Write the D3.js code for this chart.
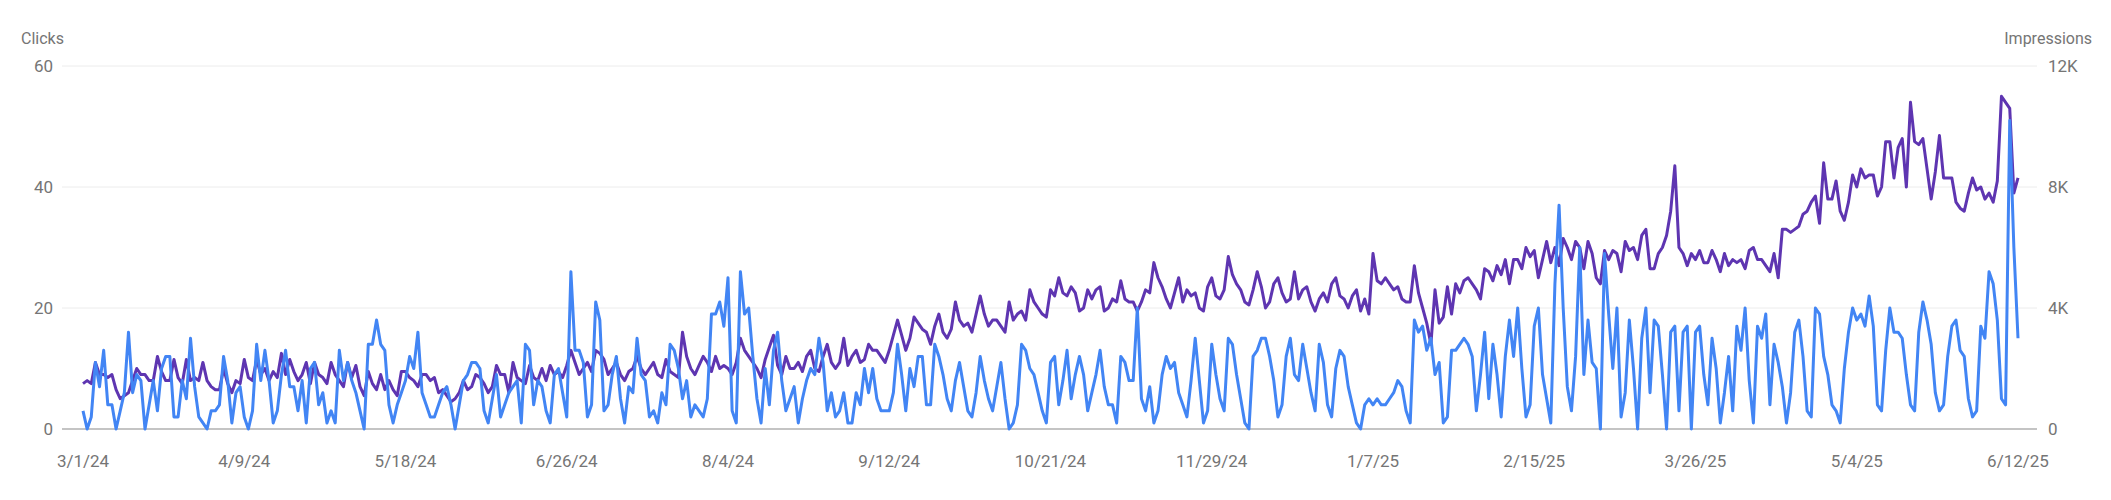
<!DOCTYPE html>
<html>
<head>
<meta charset="utf-8">
<script src="https://cdn.jsdelivr.net/npm/d3@7"></script>
<style>
  body { margin: 0; background: #fff; }
  text { font-family: Roboto, "Open Sans", sans-serif; fill: #757575; }
</style>
</head>
<body>
<div id="chart"></div>
<script>
// daily clicks, 3/1/24 .. 6/12/25
var clicks = [
  3,0,2,11,7,13,4,4,0,3,6,16,6,9,8,0,4,8,3,10,12,12,2,2,8,5,15,7,2,1,0,3,3,4,12,8,1,6,7,
  2,0,3,14,8,13,8,1,3,9,13,7,7,3,8,1,10,11,4,6,1,3,1,13,8,11,8,6,3,0,14,14,18,14,13,4,1,4,6,
  8,12,10,16,6,4,2,2,4,6,7,4,0,4,8,9,11,11,10,3,1,5,9,2,4,6,7,8,1,14,13,4,8,7,3,1,9,10,6,
  2,26,13,13,11,2,4,21,18,3,4,9,12,5,1,7,6,15,9,8,2,3,1,6,4,14,13,10,5,8,2,4,3,2,5,19,19,21,17,
  25,3,1,26,19,20,12,5,1,10,4,13,16,8,3,5,7,1,5,8,10,9,15,11,3,6,2,3,6,1,1,6,4,10,6,10,5,3,3,
  3,6,14,9,3,10,7,12,12,4,4,14,12,9,5,3,8,11,7,3,2,6,12,8,5,3,7,11,5,0,1,4,14,13,10,9,6,3,1,
  11,12,4,8,13,5,9,12,9,3,6,9,13,7,4,4,1,12,11,8,8,20,5,3,7,1,3,9,12,10,11,6,4,2,8,15,8,1,3,
  14,9,5,3,15,14,9,5,1,0,12,13,15,15,12,8,2,4,12,15,9,8,14,10,6,3,14,11,4,2,10,13,12,7,4,1,0,4,5,
  4,5,4,4,5,6,8,7,3,1,18,16,17,13,15,9,11,1,2,13,13,14,15,14,12,3,9,16,5,14,9,2,12,18,12,20,10,2,4,
  17,20,9,5,1,24,37,20,7,3,12,30,9,18,11,10,0,29,19,10,20,2,6,18,10,0,15,20,6,18,17,9,0,16,17,3,16,17,0,
  16,17,9,4,15,10,1,6,12,3,17,13,20,8,1,17,15,19,4,14,11,7,1,6,16,18,12,3,2,20,19,12,9,4,3,1,10,16,20,
  18,19,17,22,17,4,3,13,20,16,16,15,9,4,3,16,21,18,14,6,3,4,12,17,18,13,12,5,2,3,17,15,26,24,18,5,4,51,30,15
];
// daily impressions, thousands
var impressionsK = [
  1.5,1.6,1.5,2.2,1.8,1.8,1.7,1.8,1.3,1.0,1.1,1.2,1.6,2.0,1.8,1.8,1.6,1.6,2.4,1.9,1.6,1.6,2.3,1.7,1.5,2.3,1.6,1.7,1.6,2.2,1.6,1.4,1.3,1.3,2.0,1.5,1.2,1.6,1.5,
  2.3,1.7,1.6,2.3,1.8,2.0,1.6,1.9,1.7,2.5,1.8,2.3,1.9,1.6,1.8,2.2,1.5,2.2,1.8,1.7,1.5,2.2,1.8,1.6,1.4,2.2,1.7,2.1,1.4,1.1,1.9,1.5,1.3,1.8,1.3,1.6,1.3,1.1,1.9,
  1.9,1.7,1.6,1.4,1.8,1.8,1.6,1.7,1.2,1.3,1.1,0.9,1.0,1.2,1.6,1.3,1.4,1.8,1.7,1.5,1.2,1.4,2.1,1.8,1.8,1.2,2.2,1.7,1.6,1.5,2.1,1.7,1.6,2.0,1.6,2.1,1.8,1.9,1.7,
  2.1,2.6,2.2,1.8,2.0,2.2,1.9,2.6,2.5,2.3,1.8,2.0,2.2,1.8,1.6,1.9,2.0,2.4,2.0,1.8,2.0,2.2,1.8,1.7,2.3,1.9,1.8,1.7,3.2,2.4,2.0,1.8,2.1,2.4,2.2,1.9,2.4,2.0,2.1,
  2.0,1.8,2.2,3.0,2.6,2.4,2.2,2.0,1.7,2.3,2.7,3.1,2.1,1.8,2.4,2.0,2.0,2.2,1.9,2.4,2.6,2.0,1.9,2.4,2.8,2.2,2.0,2.2,3.0,2.1,2.4,2.6,2.2,2.3,2.8,2.6,2.6,2.4,2.2,
  2.6,3.1,3.6,3.1,2.6,3.0,3.7,3.5,3.3,3.2,2.8,3.4,3.8,3.2,3.0,3.3,4.2,3.6,3.4,3.5,3.2,3.8,4.4,3.8,3.4,3.6,3.6,3.4,3.2,4.2,3.6,3.8,3.9,3.6,4.6,4.2,4.0,3.8,3.7,
  4.6,4.4,5.0,4.5,4.4,4.7,4.5,3.9,4.0,4.6,4.3,4.6,4.7,3.9,4.0,4.3,4.2,4.9,4.3,4.2,4.2,3.9,4.2,4.6,4.5,5.5,5.0,4.7,4.3,4.0,4.5,5.0,4.2,4.6,4.4,4.5,4.0,3.9,4.7,
  5.0,4.4,4.3,4.6,5.7,5.1,4.8,4.6,4.2,4.1,4.6,5.2,4.7,4.0,4.2,4.8,5.0,4.5,4.2,4.3,5.2,4.3,4.6,4.7,4.2,3.9,4.3,4.5,4.2,4.8,5.0,4.4,4.3,4.0,4.4,4.6,3.9,4.3,3.8,
  5.8,4.9,4.8,5.0,4.8,4.6,4.7,4.3,4.2,4.2,5.4,4.5,4.0,3.5,2.8,4.6,3.5,3.7,4.7,3.8,4.8,4.5,4.9,5.0,4.8,4.6,4.3,5.3,5.2,4.9,5.4,5.1,5.6,4.8,5.6,5.6,5.3,6.0,5.7,
  5.9,5.0,5.6,6.2,5.5,6.0,5.4,6.3,6.0,5.6,6.2,6.0,5.3,6.2,5.8,5.0,4.8,5.9,5.6,5.9,5.8,5.2,6.2,5.9,6.0,5.6,6.4,6.6,5.3,5.3,5.8,6.0,6.4,7.2,8.7,6.0,5.8,5.4,5.8,
  5.6,5.9,5.5,5.5,5.9,5.6,5.2,5.8,5.4,5.6,5.5,5.6,5.3,5.9,6.0,5.6,5.6,5.4,5.2,5.8,5.0,6.6,6.6,6.5,6.6,6.7,7.1,7.2,7.5,7.7,6.8,8.8,7.6,7.6,8.2,7.2,6.9,7.5,8.4,
  8.0,8.6,8.3,8.4,8.4,7.7,8.0,9.5,9.5,8.3,9.3,9.6,8.0,10.8,9.5,9.4,9.6,8.6,7.6,8.5,9.7,8.3,8.3,8.3,7.5,7.3,7.2,7.8,8.3,7.9,8.0,7.6,7.8,7.5,8.2,11.0,10.8,10.6,7.8,8.3
];
var clickTicks = [0, 20, 40, 60];
var impressionTicks = [0, 4, 8, 12];
var dateTicks = ["2024-03-01","2024-04-09","2024-05-18","2024-06-26","2024-08-04","2024-09-12","2024-10-21",
  "2024-11-29","2025-01-07","2025-02-15","2025-03-26","2025-05-04","2025-06-12"];

var W = 2111, H = 500;
var start = new Date(2024, 2, 1), end = new Date(2025, 5, 12);
var parse = d3.timeParse("%Y-%m-%d");

var svg = d3.select("#chart").append("svg").attr("width", W).attr("height", H);

var x = d3.scaleTime().domain([start, end]).range([83, 2018]);
var yL = d3.scaleLinear().domain([0, 60]).range([429, 66]);
var yR = d3.scaleLinear().domain([0, 12]).range([429, 66]);

// grid
svg.append("g").selectAll("line").data(clickTicks).join("line")
  .attr("x1", 62).attr("x2", 2037)
  .attr("y1", d => yL(d)).attr("y2", d => yL(d))
  .attr("stroke", d => d === 0 ? "#c4c4c4" : "#ececec")
  .attr("stroke-width", d => d === 0 ? 2 : 1);

// left axis
svg.append("g").selectAll("text").data(clickTicks).join("text")
  .attr("x", 53).attr("y", d => yL(d)).attr("dy", "0.35em")
  .attr("text-anchor", "end").attr("font-size", 17).text(d => d);
svg.append("text").attr("x", 21).attr("y", 44).attr("font-size", 16).text("Clicks");

// right axis
svg.append("g").selectAll("text").data(impressionTicks).join("text")
  .attr("x", 2048).attr("y", d => yR(d)).attr("dy", "0.35em")
  .attr("font-size", 17).text(d => d === 0 ? "0" : d + "K");
svg.append("text").attr("x", 2092).attr("y", 44).attr("text-anchor", "end")
  .attr("font-size", 16).text("Impressions");

// x axis
var fmt = d => (d.getMonth() + 1) + "/" + d.getDate() + "/" + String(d.getFullYear()).slice(2);
svg.append("g").selectAll("text").data(dateTicks.map(parse)).join("text")
  .attr("x", d => x(d)).attr("y", 467).attr("text-anchor", "middle")
  .attr("font-size", 17).text(fmt);

var day = i => d3.timeDay.offset(start, i);

svg.append("path").datum(impressionsK)
  .attr("fill", "none").attr("stroke", "#5e35b1").attr("stroke-width", 3)
  .attr("stroke-linejoin", "round")
  .attr("d", d3.line().x((d, i) => x(day(i))).y(d => yR(d)));

svg.append("path").datum(clicks)
  .attr("fill", "none").attr("stroke", "#4285f4").attr("stroke-width", 3)
  .attr("stroke-linejoin", "round")
  .attr("d", d3.line().x((d, i) => x(day(i))).y(d => yL(d)));
</script>
</body>
</html>
